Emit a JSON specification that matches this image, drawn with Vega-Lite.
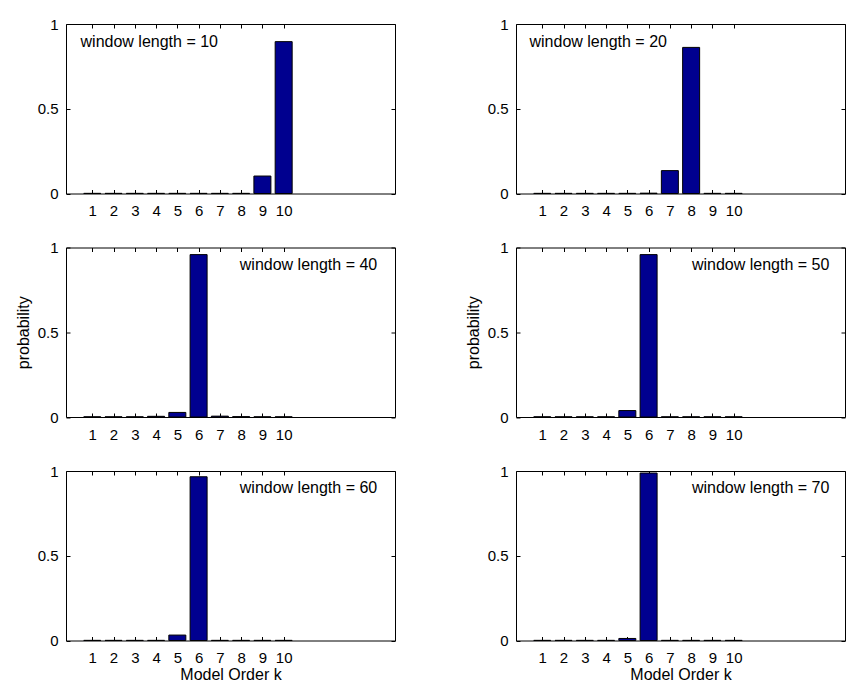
{
  "$schema": "https://vega.github.io/schema/vega-lite/v6.json",
  "padding": {"left": 14, "top": 16, "right": 0, "bottom": 0},
  "background": "white",
  "datasets": {
    "probs": [
      {"wl": 10, "k": 1, "p": 0.001}, {"wl": 10, "k": 2, "p": 0.001}, {"wl": 10, "k": 3, "p": 0.001}, {"wl": 10, "k": 4, "p": 0.001}, {"wl": 10, "k": 5, "p": 0.001},
      {"wl": 10, "k": 6, "p": 0.001}, {"wl": 10, "k": 7, "p": 0.001}, {"wl": 10, "k": 8, "p": 0.001}, {"wl": 10, "k": 9, "p": 0.103}, {"wl": 10, "k": 10, "p": 0.896},
      {"wl": 20, "k": 1, "p": 0.001}, {"wl": 20, "k": 2, "p": 0.001}, {"wl": 20, "k": 3, "p": 0.001}, {"wl": 20, "k": 4, "p": 0.001}, {"wl": 20, "k": 5, "p": 0.001},
      {"wl": 20, "k": 6, "p": 0.002}, {"wl": 20, "k": 7, "p": 0.135}, {"wl": 20, "k": 8, "p": 0.862}, {"wl": 20, "k": 9, "p": 0.001}, {"wl": 20, "k": 10, "p": 0.001},
      {"wl": 40, "k": 1, "p": 0.001}, {"wl": 40, "k": 2, "p": 0.001}, {"wl": 40, "k": 3, "p": 0.001}, {"wl": 40, "k": 4, "p": 0.004}, {"wl": 40, "k": 5, "p": 0.027},
      {"wl": 40, "k": 6, "p": 0.958}, {"wl": 40, "k": 7, "p": 0.005}, {"wl": 40, "k": 8, "p": 0.002}, {"wl": 40, "k": 9, "p": 0.001}, {"wl": 40, "k": 10, "p": 0.001},
      {"wl": 50, "k": 1, "p": 0.001}, {"wl": 50, "k": 2, "p": 0.001}, {"wl": 50, "k": 3, "p": 0.001}, {"wl": 50, "k": 4, "p": 0.001}, {"wl": 50, "k": 5, "p": 0.038},
      {"wl": 50, "k": 6, "p": 0.958}, {"wl": 50, "k": 7, "p": 0.001}, {"wl": 50, "k": 8, "p": 0.001}, {"wl": 50, "k": 9, "p": 0.001}, {"wl": 50, "k": 10, "p": 0.001},
      {"wl": 60, "k": 1, "p": 0.001}, {"wl": 60, "k": 2, "p": 0.001}, {"wl": 60, "k": 3, "p": 0.001}, {"wl": 60, "k": 4, "p": 0.001}, {"wl": 60, "k": 5, "p": 0.032},
      {"wl": 60, "k": 6, "p": 0.966}, {"wl": 60, "k": 7, "p": 0.001}, {"wl": 60, "k": 8, "p": 0.001}, {"wl": 60, "k": 9, "p": 0.001}, {"wl": 60, "k": 10, "p": 0.001},
      {"wl": 70, "k": 1, "p": 0.001}, {"wl": 70, "k": 2, "p": 0.001}, {"wl": 70, "k": 3, "p": 0.001}, {"wl": 70, "k": 4, "p": 0.001}, {"wl": 70, "k": 5, "p": 0.012},
      {"wl": 70, "k": 6, "p": 0.988}, {"wl": 70, "k": 7, "p": 0.001}, {"wl": 70, "k": 8, "p": 0.001}, {"wl": 70, "k": 9, "p": 0.001}, {"wl": 70, "k": 10, "p": 0.001}
    ]
  },
  "columns": 2,
  "spacing": {"row": 53.5, "column": 121},
  "bounds": "flush",
  "concat": [
    {
      "width": 329, "height": 169.5,
      "layer": [
        {
          "data": {"name": "probs"},
          "transform": [{"filter": "datum.wl == 10"}],
          "mark": {"type": "bar", "size": 17, "fill": "#00008F", "stroke": "#000000", "strokeWidth": 1},
          "encoding": {
            "x": {"field": "k", "type": "quantitative", "scale": {"domain": [0, 15], "nice": false, "zero": false},
                  "axis": {"orient": "bottom", "values": [1,2,3,4,5,6,7,8,9,10], "format": "d", "labelPadding": 14, "title": null}},
            "y": {"field": "p", "type": "quantitative", "scale": {"domain": [0, 1], "nice": false},
                  "axis": {"orient": "left", "values": [0, 0.5, 1], "format": "~g", "labelPadding": 12, "title": null}}
          }
        },
        {
          "data": {"values": [{"label": "window length = 10"}]},
          "mark": {"type": "text", "align": "left", "baseline": "alphabetic", "fontSize": 16, "color": "#000000"},
          "encoding": {
            "text": {"field": "label"},
            "x": {"datum": 0.45, "type": "quantitative", "axis": {"orient": "top", "values": [1,2,3,4,5,6,7,8,9,10], "labels": false, "title": null}},
            "y": {"datum": 0.865, "type": "quantitative", "axis": {"orient": "right", "values": [0, 0.5, 1], "labels": false, "title": null}}
          }
        }
      ]
    },
    {
      "width": 329, "height": 169.5,
      "layer": [
        {
          "data": {"name": "probs"},
          "transform": [{"filter": "datum.wl == 20"}],
          "mark": {"type": "bar", "size": 17, "fill": "#00008F", "stroke": "#000000", "strokeWidth": 1},
          "encoding": {
            "x": {"field": "k", "type": "quantitative", "scale": {"domain": [0, 15], "nice": false, "zero": false},
                  "axis": {"orient": "bottom", "values": [1,2,3,4,5,6,7,8,9,10], "format": "d", "labelPadding": 14, "title": null}},
            "y": {"field": "p", "type": "quantitative", "scale": {"domain": [0, 1], "nice": false},
                  "axis": {"orient": "left", "values": [0, 0.5, 1], "format": "~g", "labelPadding": 12, "title": null}}
          }
        },
        {
          "data": {"values": [{"label": "window length = 20"}]},
          "mark": {"type": "text", "align": "left", "baseline": "alphabetic", "fontSize": 16, "color": "#000000"},
          "encoding": {
            "text": {"field": "label"},
            "x": {"datum": 0.4, "type": "quantitative", "axis": {"orient": "top", "values": [1,2,3,4,5,6,7,8,9,10], "labels": false, "title": null}},
            "y": {"datum": 0.865, "type": "quantitative", "axis": {"orient": "right", "values": [0, 0.5, 1], "labels": false, "title": null}}
          }
        }
      ]
    },
    {
      "width": 329, "height": 169.5,
      "layer": [
        {
          "data": {"name": "probs"},
          "transform": [{"filter": "datum.wl == 40"}],
          "mark": {"type": "bar", "size": 17, "fill": "#00008F", "stroke": "#000000", "strokeWidth": 1},
          "encoding": {
            "x": {"field": "k", "type": "quantitative", "scale": {"domain": [0, 15], "nice": false, "zero": false},
                  "axis": {"orient": "bottom", "values": [1,2,3,4,5,6,7,8,9,10], "format": "d", "labelPadding": 14, "title": null}},
            "y": {"field": "p", "type": "quantitative", "scale": {"domain": [0, 1], "nice": false},
                  "axis": {"orient": "left", "values": [0, 0.5, 1], "format": "~g", "labelPadding": 12, "title": "probability"}}
          }
        },
        {
          "data": {"values": [{"label": "window length = 40"}]},
          "mark": {"type": "text", "align": "right", "baseline": "alphabetic", "fontSize": 16, "color": "#000000"},
          "encoding": {
            "text": {"field": "label"},
            "x": {"datum": 14.4, "type": "quantitative", "axis": {"orient": "top", "values": [1,2,3,4,5,6,7,8,9,10], "labels": false, "title": null}},
            "y": {"datum": 0.87, "type": "quantitative", "axis": {"orient": "right", "values": [0, 0.5, 1], "labels": false, "title": null}}
          }
        }
      ]
    },
    {
      "width": 329, "height": 169.5,
      "layer": [
        {
          "data": {"name": "probs"},
          "transform": [{"filter": "datum.wl == 50"}],
          "mark": {"type": "bar", "size": 17, "fill": "#00008F", "stroke": "#000000", "strokeWidth": 1},
          "encoding": {
            "x": {"field": "k", "type": "quantitative", "scale": {"domain": [0, 15], "nice": false, "zero": false},
                  "axis": {"orient": "bottom", "values": [1,2,3,4,5,6,7,8,9,10], "format": "d", "labelPadding": 14, "title": null}},
            "y": {"field": "p", "type": "quantitative", "scale": {"domain": [0, 1], "nice": false},
                  "axis": {"orient": "left", "values": [0, 0.5, 1], "format": "~g", "labelPadding": 12, "title": "probability"}}
          }
        },
        {
          "data": {"values": [{"label": "window length = 50"}]},
          "mark": {"type": "text", "align": "right", "baseline": "alphabetic", "fontSize": 16, "color": "#000000"},
          "encoding": {
            "text": {"field": "label"},
            "x": {"datum": 14.5, "type": "quantitative", "axis": {"orient": "top", "values": [1,2,3,4,5,6,7,8,9,10], "labels": false, "title": null}},
            "y": {"datum": 0.87, "type": "quantitative", "axis": {"orient": "right", "values": [0, 0.5, 1], "labels": false, "title": null}}
          }
        }
      ]
    },
    {
      "width": 329, "height": 169.5,
      "layer": [
        {
          "data": {"name": "probs"},
          "transform": [{"filter": "datum.wl == 60"}],
          "mark": {"type": "bar", "size": 17, "fill": "#00008F", "stroke": "#000000", "strokeWidth": 1},
          "encoding": {
            "x": {"field": "k", "type": "quantitative", "scale": {"domain": [0, 15], "nice": false, "zero": false},
                  "axis": {"orient": "bottom", "values": [1,2,3,4,5,6,7,8,9,10], "format": "d", "labelPadding": 14, "title": "Model Order k"}},
            "y": {"field": "p", "type": "quantitative", "scale": {"domain": [0, 1], "nice": false},
                  "axis": {"orient": "left", "values": [0, 0.5, 1], "format": "~g", "labelPadding": 12, "title": null}}
          }
        },
        {
          "data": {"values": [{"label": "window length = 60"}]},
          "mark": {"type": "text", "align": "right", "baseline": "alphabetic", "fontSize": 16, "color": "#000000"},
          "encoding": {
            "text": {"field": "label"},
            "x": {"datum": 14.4, "type": "quantitative", "axis": {"orient": "top", "values": [1,2,3,4,5,6,7,8,9,10], "labels": false, "title": null}},
            "y": {"datum": 0.87, "type": "quantitative", "axis": {"orient": "right", "values": [0, 0.5, 1], "labels": false, "title": null}}
          }
        }
      ]
    },
    {
      "width": 329, "height": 169.5,
      "layer": [
        {
          "data": {"name": "probs"},
          "transform": [{"filter": "datum.wl == 70"}],
          "mark": {"type": "bar", "size": 17, "fill": "#00008F", "stroke": "#000000", "strokeWidth": 1},
          "encoding": {
            "x": {"field": "k", "type": "quantitative", "scale": {"domain": [0, 15], "nice": false, "zero": false},
                  "axis": {"orient": "bottom", "values": [1,2,3,4,5,6,7,8,9,10], "format": "d", "labelPadding": 14, "title": "Model Order k"}},
            "y": {"field": "p", "type": "quantitative", "scale": {"domain": [0, 1], "nice": false},
                  "axis": {"orient": "left", "values": [0, 0.5, 1], "format": "~g", "labelPadding": 12, "title": null}}
          }
        },
        {
          "data": {"values": [{"label": "window length = 70"}]},
          "mark": {"type": "text", "align": "right", "baseline": "alphabetic", "fontSize": 16, "color": "#000000"},
          "encoding": {
            "text": {"field": "label"},
            "x": {"datum": 14.5, "type": "quantitative", "axis": {"orient": "top", "values": [1,2,3,4,5,6,7,8,9,10], "labels": false, "title": null}},
            "y": {"datum": 0.87, "type": "quantitative", "axis": {"orient": "right", "values": [0, 0.5, 1], "labels": false, "title": null}}
          }
        }
      ]
    }
  ],
  "config": {
    "font": "Liberation Sans",
    "view": {"stroke": "#000000", "strokeWidth": 1},
    "axis": {
      "grid": false,
      "domain": false,
      "tickSize": -4,
      "tickColor": "#000000",
      "labelFont": "Liberation Sans",
      "labelFontSize": 15,
      "labelColor": "#000000",
      "labelFlush": false,
      "titleFont": "Liberation Sans",
      "titleFontSize": 16,
      "titleFontWeight": "normal",
      "titleColor": "#000000",
      "titlePadding": 6
    },
    "axisBottom": {"titlePadding": 1},
    "text": {"font": "Liberation Sans"}
  }
}
